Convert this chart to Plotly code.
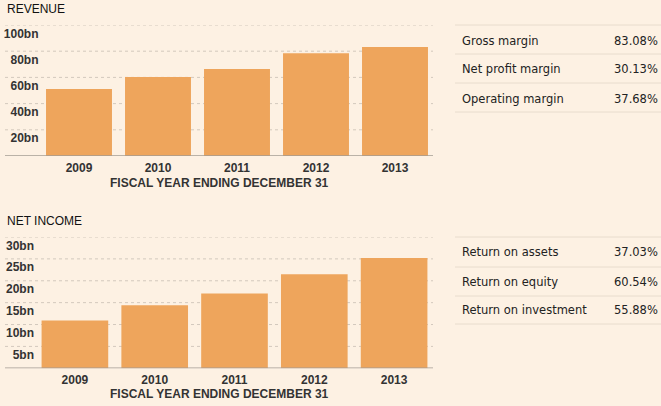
import plotly.graph_objects as go

W, H = 661, 406

years = ["2009", "2010", "2011", "2012", "2013"]
revenue_bn = [51.1, 60.3, 66.4, 78.4, 83.2]
net_income_bn = [10.9, 14.4, 17.1, 21.5, 25.2]

rev_ticks = [20, 40, 60, 80, 100]
rev_ticktext = ["20bn", "40bn", "60bn", "80bn", "100bn"]
ni_ticks = [5, 10, 15, 20, 25, 30]
ni_ticktext = ["5bn", "10bn", "15bn", "20bn", "25bn", "30bn"]

margin_labels = ["Gross margin", "Net profit margin", "Operating margin"]
margin_values = ["83.08%", "30.13%", "37.68%"]
return_labels = ["Return on assets", "Return on equity", "Return on investment"]
return_values = ["37.03%", "60.54%", "55.88%"]

BG = "#fdf1e3"
BAR = "#eea55c"
GRID = "#d3c9bd"
TXT = "#333333"
LINE = "#e8dccd"


def px_x(p):
    return p / W


def px_y(p):
    return 1 - p / H


fig = go.Figure()
fig.add_trace(go.Bar(x=years, y=revenue_bn, marker=dict(color=BAR, line=dict(width=0)),
                     xaxis="x", yaxis="y", hoverinfo="x+y"))
fig.add_trace(go.Bar(x=years, y=net_income_bn, marker=dict(color=BAR, line=dict(width=0)),
                     xaxis="x2", yaxis="y2", hoverinfo="x+y"))

boldfont = dict(family="Liberation Sans, Arial, sans-serif", size=12, color=TXT, weight="bold")

common_x = dict(type="category", showgrid=False, zeroline=False, showline=False,
                ticks="", tickfont=boldfont, fixedrange=True, ticklabelstandoff=3)
common_y = dict(showgrid=False, zeroline=False, showline=False, ticks="",
                tickfont=boldfont, ticklabelposition="outside bottom", fixedrange=True)

fig.update_layout(
    width=W, height=H,
    margin=dict(l=0, r=0, t=0, b=0),
    paper_bgcolor=BG, plot_bgcolor=BG,
    showlegend=False,
    bargap=0.165,
    xaxis=dict(common_x, domain=[px_x(39.5), px_x(434.5)], anchor="y", range=[-0.5, 4.5]),
    yaxis=dict(common_y, domain=[px_y(156), px_y(25)], anchor="x", range=[0, 100],
               tickvals=rev_ticks, ticktext=rev_ticktext),
    xaxis2=dict(common_x, domain=[px_x(35), px_x(434)], anchor="y2", range=[-0.5, 4.5]),
    yaxis2=dict(common_y, domain=[px_y(368.3), px_y(237)], anchor="x2", range=[0, 30],
                tickvals=ni_ticks, ticktext=ni_ticktext),
)

shapes = []
# dotted gridlines extended across label area
for v in rev_ticks:
    shapes.append(dict(type="line", xref="paper", yref="y", x0=px_x(5), x1=px_x(433), y0=v, y1=v,
                       line=dict(color=GRID, width=1, dash="dot"), layer="below"))
for v in ni_ticks:
    shapes.append(dict(type="line", xref="paper", yref="y2", x0=px_x(5), x1=px_x(433), y0=v, y1=v,
                       line=dict(color=GRID, width=1, dash="dot"), layer="below"))
# baselines
shapes.append(dict(type="line", xref="paper", yref="y", x0=px_x(5), x1=px_x(433), y0=0, y1=0,
                   line=dict(color="#a39c93", width=1.5)))
shapes.append(dict(type="line", xref="paper", yref="y2", x0=px_x(5), x1=px_x(433), y0=0, y1=0,
                   line=dict(color="#a39c93", width=1.5)))

annotations = []
titlefont = dict(family="Liberation Sans, Arial, sans-serif", size=12, color="#111111")
annotations.append(dict(text="REVENUE", xref="paper", yref="paper", x=px_x(5), y=px_y(9),
                        xanchor="left", yanchor="middle", showarrow=False, font=titlefont))
annotations.append(dict(text="NET INCOME", xref="paper", yref="paper", x=px_x(5), y=px_y(221),
                        xanchor="left", yanchor="middle", showarrow=False, font=titlefont))
annotations.append(dict(text="FISCAL YEAR ENDING DECEMBER 31", xref="paper", yref="paper",
                        x=px_x(219), y=px_y(183), xanchor="center", yanchor="middle",
                        showarrow=False, font=boldfont))
annotations.append(dict(text="FISCAL YEAR ENDING DECEMBER 31", xref="paper", yref="paper",
                        x=px_x(219), y=px_y(394), xanchor="center", yanchor="middle",
                        showarrow=False, font=boldfont))

tablefont = dict(family="DejaVu Sans, Verdana, sans-serif", size=11.5, color="#222222")


def add_table(labels, values, lines_px, rows_px):
    for yl in lines_px:
        shapes.append(dict(type="line", xref="paper", yref="paper", x0=px_x(455), x1=1,
                           y0=px_y(yl), y1=px_y(yl), line=dict(color=LINE, width=1)))
    for lab, val, yr in zip(labels, values, rows_px):
        annotations.append(dict(text=lab, xref="paper", yref="paper", x=px_x(460), y=px_y(yr),
                                xanchor="left", yanchor="middle", showarrow=False, font=tablefont))
        annotations.append(dict(text=val, xref="paper", yref="paper", x=px_x(660), y=px_y(yr),
                                xanchor="right", yanchor="middle", showarrow=False, font=tablefont))


add_table(margin_labels, margin_values, [25, 54, 83, 112], [41, 69, 99])
add_table(return_labels, return_values, [237, 267, 296, 324], [252, 282, 310])

fig.update_layout(shapes=shapes, annotations=annotations)

fig.write_html(
    "out.html",
    config=dict(displayModeBar=False),
    post_script="document.body.style.margin='0';document.body.style.overflow='hidden';",
)
